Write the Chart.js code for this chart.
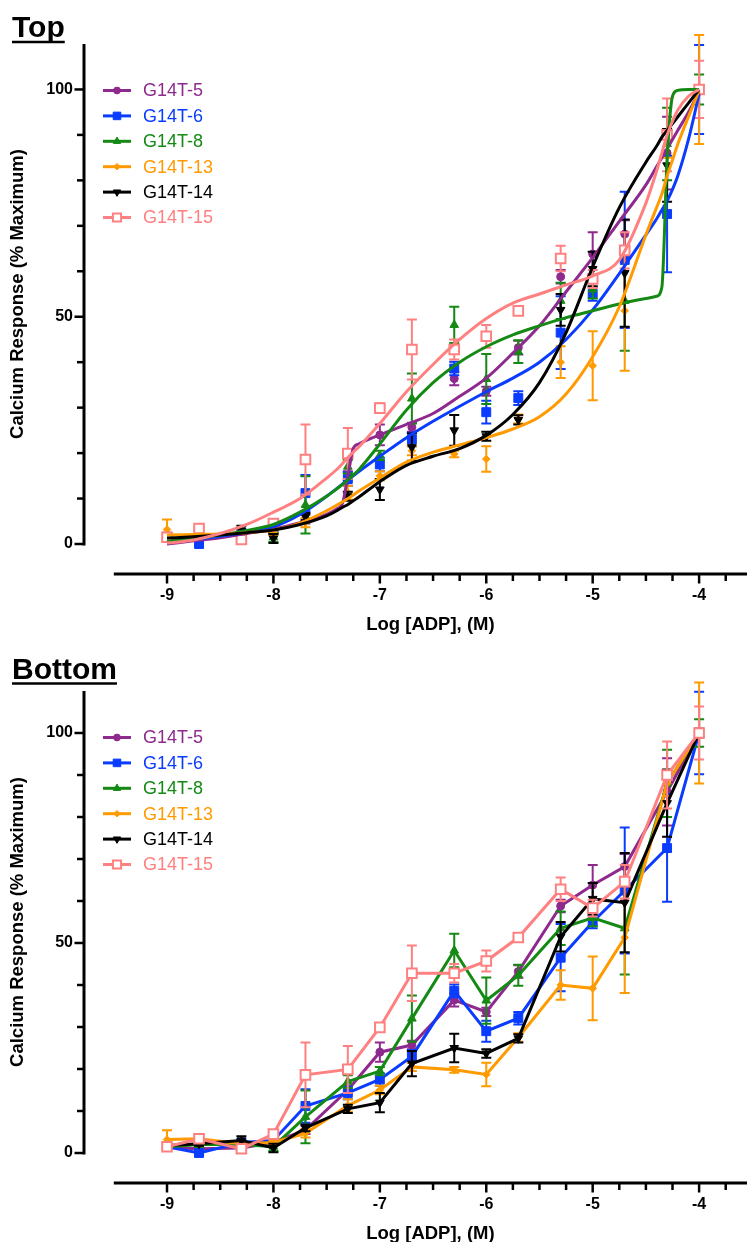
<!DOCTYPE html>
<html>
<head>
<meta charset="utf-8">
<title>Calcium response</title>
<script src="https://cdn.jsdelivr.net/npm/chart.js@4.4.1/dist/chart.umd.min.js"></script>
<style>
  html, body { margin: 0; padding: 0; background: #fff; }
  #wrap { position: relative; width: 747px; height: 1242px; overflow: hidden; }
  canvas { position: absolute; left: 0; display: block; }
  #topChart { top: 0; }
  #bottomChart { top: 640px; }
</style>
</head>
<body>
<div id="wrap">
  <canvas id="topChart" width="747" height="640"></canvas>
  <canvas id="bottomChart" width="747" height="602"></canvas>
</div>
<script>
// --- data ---
const seriesNames = ['G14T-5', 'G14T-6', 'G14T-8', 'G14T-13', 'G14T-14', 'G14T-15'];

// log [ADP] of 1, 2, 5 x 10^n M
const logAdp = [-9, -8.699, -8.301, -8, -7.699, -7.301, -7, -6.699, -6.301, -6, -5.699, -5.301, -5, -4.699, -4.301, -4];

const g14t5Mean  = [1.3, 1.0, 1.2, 2.5, 5.5, 15, 24, 25.7, 36.4, 33.6, 43.2, 58.8, 63.8, 68.2, 86, 100];
const g14t5Sem   = [0.5, 0.5, 0.5, 0.5, 1, 1, 2.3, 1, 1.5, 1, 1.5, 1.5, 4.8, 3, 8, 1];
const g14t6Mean  = [1.5, 0, 2.5, 3, 11.2, 14.3, 17.5, 23, 38.6, 29, 32.1, 46.5, 55, 62.5, 72.6, 100];
const g14t6Sem   = [1, 0.5, 0.5, 0.5, 4, 1.5, 1.5, 1.5, 1.5, 2.5, 1.5, 8, 1.5, 15, 12.8, 9.8];
const g14t8Mean  = [1.5, 2, 2, 1.5, 8.6, 17, 19.5, 32, 48.2, 36.3, 42.3, 53.5, 56, 53.5, 88, 100];
const g14t8Sem   = [0.5, 0.5, 0.5, 1, 6.3, 1.5, 1, 5.5, 4, 5.5, 2.5, 4, 2, 11, 8, 3.3];
const g14t13Mean = [3.2, 3.4, 2.2, 2.5, 4.7, 11.3, 15, 20.5, 19.8, 18.7, 27.5, 40, 39.2, 51.3, 88, 100];
const g14t13Sem  = [2.2, 0.5, 0.5, 0.5, 1, 1.5, 1, 1, 0.7, 2.8, 1, 3.5, 7.6, 13.2, 3, 12];
const g14t14Mean = [1.8, 2.2, 3, 1.2, 6, 10.5, 12, 21.3, 25, 23.7, 27.3, 51.5, 60.5, 59.6, 83.3, 100];
const g14t14Sem  = [0.5, 0.5, 1, 1, 0.8, 1, 2.3, 3, 3.4, 1, 1, 3.5, 3.8, 11.8, 8, 1];
const g14t15Mean = [1.5, 3.4, 1, 4.5, 18.6, 19.9, 29.9, 42.8, 42.8, 45.7, 51.3, 62.8, 58.3, 64.6, 90, 100];
const g14t15Sem  = [0.5, 0.5, 0.5, 0.5, 7.7, 5.6, 1, 6.6, 2.2, 2.5, 0.7, 2.8, 2, 4, 8, 6.3];

// fitted curves of the top panel, read at these log [ADP] values
const fitX = [-9, -8.75, -8.5, -8.25, -8, -7.75, -7.5, -7.4, -7.35, -7.3, -7.25, -7.2, -7, -6.75, -6.5,
              -6.25, -6, -5.75, -5.5, -5.25, -5, -4.75, -4.5, -4.4, -4.35, -4.3, -4.25, -4.2, -4.1, -4];
const g14t5Fit  = [0, 0.7, 1.4, 2.3, 3.3, 4.7, 6.5, 7.8, 9, 15, 21, 22, 24, 26.3, 28.7, 32.5, 36.5, 42, 48, 55.5, 63, 71, 79, 83, 85, 87, 89, 91, 95, 99.5];
const g14t6Fit  = [0.5, 1, 1.7, 2.6, 3.8, 6.5, 10.5, 12.3, 13.2, 14.1, 15, 15.9, 19.3, 23.4, 27, 30.3, 33.5, 36.5, 40, 45, 51.5, 59.5, 68, 71.5, 73.5, 75.5, 78, 81, 89, 99];
const g14t8Fit  = [0.6, 1.2, 2, 3, 4.3, 7, 10.5, 12.2, 13.1, 14.1, 15.2, 16.3, 22, 29.5, 35.5, 40, 43.4, 46, 48, 49.8, 51.3, 52.8, 54, 54.5, 56.5, 85, 98.5, 99.8, 100, 100];
const g14t13Fit = [2, 2.1, 2.2, 2.5, 3.1, 4.6, 7.3, 8.6, 9.3, 10, 10.8, 11.6, 14.5, 18, 20.2, 21.8, 23.4, 25.3, 28, 33, 41.2, 52.2, 68, 74, 77, 81, 84.5, 88, 94, 99.8];
const g14t14Fit = [1.3, 1.6, 2, 2.5, 3.1, 4.3, 6.2, 7.4, 8.1, 8.7, 9.5, 10.3, 13.7, 17.3, 19.3, 21, 23.9, 28.5, 35.5, 46.5, 61, 74, 84, 87.5, 89.5, 91, 92.5, 94, 97, 100];
const g14t15Fit = [0.2, 0.9, 2.3, 4.3, 7, 10, 14.5, 16.5, 17.7, 19, 20.2, 21.3, 26.5, 33.5, 39.5, 45, 49.6, 53, 55, 57, 59, 62.5, 75, 82, 86, 90, 93, 95.5, 98.5, 100];

// axes
const yTickValues = [0, 10, 20, 30, 40, 50, 60, 70, 80, 90, 100];
const yTickLabels = [0, 50, 100];
const xTickValues = [];
for (let v = -9; v <= -3.75; v += 0.25) xTickValues.push(v);
const xTickLabels = [-9, -8, -7, -6, -5, -4];

const means = [g14t5Mean, g14t6Mean, g14t8Mean, g14t13Mean, g14t14Mean, g14t15Mean];
const sems  = [g14t5Sem, g14t6Sem, g14t8Sem, g14t13Sem, g14t14Sem, g14t15Sem];
const fits  = [g14t5Fit, g14t6Fit, g14t8Fit, g14t13Fit, g14t14Fit, g14t15Fit];

// --- styles ---
const FONT = "'Liberation Sans', Arial, Helvetica, sans-serif";
const colors = ['#8e2a8e', '#0a3cff', '#148a14', '#ff9a00', '#000000', '#ff8080'];
const markers = [
    { pointStyle: 'circle',   radius: 4,   rotation: 0,   filled: true },
    { pointStyle: 'rect',     radius: 6.3, rotation: 0,   filled: true },
    { pointStyle: 'triangle', radius: 5,   rotation: 0,   filled: true },
    { pointStyle: 'rectRot',  radius: 3.8, rotation: 0,   filled: true },
    { pointStyle: 'triangle', radius: 5,   rotation: 180, filled: true },
    { pointStyle: 'rect',     radius: 6.8, rotation: 0,   filled: false }
];

function xy(xs, ys) {
    return xs.map((x, i) => ({ x: x, y: ys[i] }));
}

function pointDataset(i, withLine) {
    const m = markers[i];
    return {
        label: seriesNames[i],
        data: xy(logAdp, means[i]),
        errors: sems[i],
        showLine: withLine,
        tension: 0,
        borderColor: colors[i],
        borderWidth: 3,
        pointStyle: m.pointStyle,
        pointRotation: m.rotation,
        pointRadius: m.radius,
        pointBackgroundColor: m.filled ? colors[i] : '#ffffff',
        pointBorderColor: colors[i],
        pointBorderWidth: m.filled ? 1 : 2,
        order: 20 - i
    };
}

function fitDataset(i) {
    return {
        label: seriesNames[i] + ' fit',
        data: xy(fitX, fits[i]),
        showLine: true,
        cubicInterpolationMode: 'monotone',
        borderColor: colors[i],
        borderWidth: 3,
        pointRadius: 0,
        order: 10 - i
    };
}

// ----------------------------------------------------------------------------------
// plugin: error bars, offset axes, titles and legend (GraphPad look)
// ----------------------------------------------------------------------------------
const panelDecor = {
    id: 'panelDecor',
    beforeDatasetDraw(chart, args) {
        const ds = chart.data.datasets[args.index];
        if (!ds.errors) return;
        const ctx = chart.ctx;
        const ys = chart.scales.y;
        const area = chart.chartArea;
        ctx.save();
        ctx.beginPath();
        ctx.rect(area.left, 0, area.right - area.left, area.bottom);
        ctx.clip();
        ctx.strokeStyle = ds.borderColor;
        ctx.lineWidth = 2;
        args.meta.data.forEach((pt, k) => {
            const e = ds.errors[k];
            if (!e) return;
            const v = ds.data[k].y;
            const yHi = ys.getPixelForValue(v + e);
            const yLo = ys.getPixelForValue(v - e);
            ctx.beginPath();
            ctx.moveTo(pt.x, yHi); ctx.lineTo(pt.x, yLo);
            ctx.moveTo(pt.x - 5, yHi); ctx.lineTo(pt.x + 5, yHi);
            ctx.moveTo(pt.x - 5, yLo); ctx.lineTo(pt.x + 5, yLo);
            ctx.stroke();
        });
        ctx.restore();
    },
    afterDraw(chart, args, opts) {
        const ctx = chart.ctx;
        const xs = chart.scales.x;
        const ys = chart.scales.y;
        const area = chart.chartArea;
        const yTop = ys.getPixelForValue(110);
        const yZero = ys.getPixelForValue(0);
        const xStart = xs.getPixelForValue(-9.5);

        ctx.save();
        ctx.strokeStyle = '#000';
        ctx.lineCap = 'butt';

        // y axis and ticks
        ctx.lineWidth = 3;
        ctx.beginPath();
        ctx.moveTo(area.left, yTop);
        ctx.lineTo(area.left, yZero + 1.5);
        ctx.stroke();
        ctx.lineWidth = 2.5;
        yTickValues.forEach(v => {
            const py = ys.getPixelForValue(v);
            const len = yTickLabels.includes(v) ? 9.5 : 7;
            ctx.beginPath();
            ctx.moveTo(area.left, py);
            ctx.lineTo(area.left - len, py);
            ctx.stroke();
        });

        // x axis and ticks
        ctx.lineWidth = 3;
        ctx.beginPath();
        ctx.moveTo(xStart, area.bottom);
        ctx.lineTo(area.right, area.bottom);
        ctx.stroke();
        ctx.lineWidth = 2.5;
        xTickValues.forEach(v => {
            const px = xs.getPixelForValue(v);
            const len = xTickLabels.includes(v) ? 9.5 : 7;
            ctx.beginPath();
            ctx.moveTo(px, area.bottom);
            ctx.lineTo(px, area.bottom + len);
            ctx.stroke();
        });

        // axis titles
        ctx.fillStyle = '#000';
        ctx.font = 'bold 18.5px ' + FONT;
        ctx.textAlign = 'center';
        ctx.textBaseline = 'middle';
        ctx.fillText('Log [ADP], (M)', (xStart + area.right) / 2, area.bottom + opts.xTitleOffset);
        ctx.save();
        ctx.translate(18, (yTop + yZero) / 2);
        ctx.rotate(-Math.PI / 2);
        ctx.fillText('Calcium Response (% Maximum)', 0, 0);
        ctx.restore();

        // panel title, underlined
        ctx.font = 'bold 30px ' + FONT;
        ctx.textAlign = 'left';
        ctx.textBaseline = 'alphabetic';
        ctx.fillText(opts.title, 12, opts.titleBaseline);
        const w = ctx.measureText(opts.title).width;
        ctx.lineWidth = 2.5;
        ctx.beginPath();
        ctx.moveTo(12, opts.titleBaseline + 5);
        ctx.lineTo(12 + w, opts.titleBaseline + 5);
        ctx.stroke();

        // legend
        ctx.font = '18px ' + FONT;
        ctx.textBaseline = 'middle';
        seriesNames.forEach((name, i) => {
            const ly = area.top + 46.5 + i * 25.4;
            const m = markers[i];
            ctx.strokeStyle = colors[i];
            ctx.lineWidth = 3;
            ctx.beginPath();
            ctx.moveTo(103, ly);
            ctx.lineTo(131, ly);
            ctx.stroke();
            ctx.fillStyle = m.filled ? colors[i] : '#ffffff';
            ctx.lineWidth = m.filled ? 1 : 2;
            Chart.helpers.drawPoint(ctx, {
                pointStyle: m.pointStyle,
                rotation: m.rotation,
                radius: m.radius * 0.85,
                borderWidth: ctx.lineWidth
            }, 117, ly);
            ctx.fillStyle = colors[i];
            ctx.fillText(name, 143, ly + 1);
        });
        ctx.restore();
    }
};

function makeOptions(cfg) {
    return {
        responsive: false,
        devicePixelRatio: 1,
        animation: false,
        layout: { autoPadding: false, padding: { top: cfg.areaTop, left: 0, right: 0, bottom: 0 } },
        plugins: {
            legend: { display: false },
            tooltip: { enabled: false },
            panelDecor: { title: cfg.title, titleBaseline: cfg.titleBaseline, xTitleOffset: 51 }
        },
        scales: {
            x: {
                type: 'linear',
                min: -9.78,
                max: -3.55,
                afterBuildTicks: s => { s.ticks = xTickValues.map(v => ({ value: v })); },
                afterFit: s => { s.height = cfg.xHeight; },
                grid: { display: false, drawTicks: false },
                border: { display: false },
                ticks: {
                    autoSkip: false,
                    maxRotation: 0,
                    padding: 12,
                    color: '#000',
                    font: { family: FONT, size: 16, weight: 'bold' },
                    callback: v => xTickLabels.includes(v) ? String(v) : ''
                }
            },
            y: {
                type: 'linear',
                min: cfg.yMin,
                max: 110,
                afterBuildTicks: s => { s.ticks = yTickValues.map(v => ({ value: v })); },
                afterFit: s => { s.width = 84; },
                grid: { display: false, drawTicks: false },
                border: { display: false },
                ticks: {
                    padding: 11,
                    color: '#000',
                    font: { family: FONT, size: 16, weight: 'bold' },
                    callback: v => yTickLabels.includes(v) ? String(v) : ''
                }
            }
        }
    };
}

// top: fitted curves plus mean +/- SEM
const topDatasets = [];
seriesNames.forEach((n, i) => {
    topDatasets.push(pointDataset(i, false));
    topDatasets.push(fitDataset(i));
});

new Chart(document.getElementById('topChart'), {
    type: 'line',
    data: { datasets: topDatasets },
    options: makeOptions({ title: 'Top', titleBaseline: 37, areaTop: 44, xHeight: 66, yMin: -30 / 4.546 }),
    plugins: [panelDecor]
});

// bottom: mean +/- SEM joined point to point
new Chart(document.getElementById('bottomChart'), {
    type: 'line',
    data: { datasets: seriesNames.map((n, i) => pointDataset(i, true)) },
    options: makeOptions({ title: 'Bottom', titleBaseline: 38.5, areaTop: 51, xHeight: 59, yMin: -30 / 4.2 }),
    plugins: [panelDecor]
});
</script>
</body>
</html>
